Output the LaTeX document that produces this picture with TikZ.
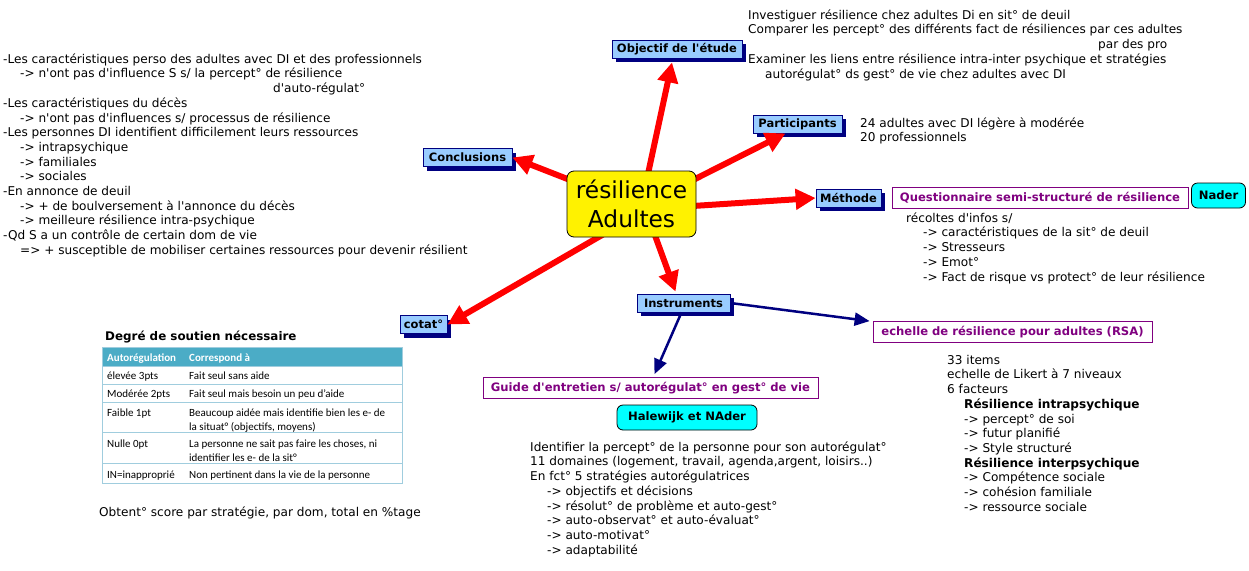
\documentclass[tikz,border=0pt]{standalone}
\usepackage{fontspec}
\newfontfamily\vfont{DejaVu Sans}
\newfontfamily\cfont{Carlito}
\usetikzlibrary{arrows.meta,shadows,calc}
\definecolor{topicblue}{RGB}{153,204,255}
\definecolor{navyb}{RGB}{0,0,128}
\definecolor{purp}{RGB}{128,0,128}
\definecolor{cyanb}{RGB}{0,255,255}
\definecolor{tealh}{RGB}{75,172,198}
\definecolor{tline}{RGB}{160,205,222}
\newcommand\ind{\hspace*{17pt}}
\newcommand\fst{\rule{0pt}{10pt}}
\begin{document}
\begin{tikzpicture}[x=1pt,y=-1pt,
  topic/.style={draw=navyb, fill=topicblue, line width=0.8pt, font=\vfont\fontsize{11.5}{12}\selectfont\bfseries, inner sep=0pt, minimum height=18pt, drop shadow={shadow xshift=4pt, shadow yshift=-4pt, fill=navyb, opacity=1}},
  purpbox/.style={draw=purp, fill=white, line width=0.8pt, text=purp, font=\vfont\fontsize{11.6}{12}\selectfont\bfseries, inner sep=0pt, minimum height=21pt},
  cyanbox/.style={draw=black, fill=cyanb, line width=0.8pt, rounded corners=6pt, font=\vfont\fontsize{11.6}{12}\selectfont\bfseries, inner sep=0pt, minimum height=25pt},
  centerbox/.style={draw=black, fill=yellow, line width=0.8pt, rounded corners=7pt, font=\vfont\fontsize{23.3}{29}\selectfont, align=center, inner sep=0pt, minimum width=129pt, minimum height=66pt},
  txt/.style={align=left, anchor=north west, inner sep=0pt, font=\vfont\fontsize{12.1}{14.7}\selectfont},
  tabtxt/.style={anchor=base west, inner sep=0pt, font=\cfont\fontsize{11}{13}\selectfont},
  tabhead/.style={tabtxt, text=white, font=\cfont\fontsize{11}{13}\selectfont\bfseries},
  redarrow/.style={draw=red, line width=6pt, -{Triangle[length=20pt,width=20pt]}},
  bluearrow/.style={draw=navyb, line width=2.5pt, -{Triangle[length=15pt,width=13pt]}}
]
\useasboundingbox (0,0) rectangle (1249,570);
\fill[white] (0,0) rectangle (1249,570);

% topic boxes
\node[topic, minimum width=130pt] (obj) at (677,49) {Objectif de l'étude};
\node[topic, minimum width=89pt] (part) at (797.5,124) {Participants};
\node[topic, minimum width=65pt] (meth) at (848.5,198) {Méthode};
\node[topic, minimum width=89pt] (concl) at (467.5,157.5) {Conclusions};
\node[topic, minimum width=47pt] (cotat) at (423.5,324.5) {cotat°};
\node[topic, minimum width=93pt] (instr) at (683.5,303) {Instruments};

% red arrows
\draw[redarrow] ($(631.5,204)+(10,0)$) -- ($(obj.south)+(-5,4)$);
\draw[redarrow] ($(631.5,204)+(14,0)$) -- ($(part.south)+(-12,0)$);
\draw[redarrow] ($(631.5,204)+(0,6)$) -- (meth.west);
\draw[redarrow] (631.5,204) -- (concl.east);
\draw[redarrow] ($(631.5,204)+(0,14)$) -- (cotat.east);
\draw[redarrow] ($(631.5,204)+(12,0)$) -- ($(instr.north)+(-8,-2)$);

% center
\node[centerbox] (ctr) at (631.5,204) {résilience\\Adultes};

% other boxes
\node[purpbox, minimum width=296pt] (quest) at (1040,198) {Questionnaire semi-structuré de résilience};
\node[cyanbox, minimum width=54pt] (nader) at (1218.5,195.5) {Nader};
\node[purpbox, minimum width=279pt] (rsa) at (1012.5,332) {echelle de résilience pour adultes (RSA)};
\node[purpbox, minimum width=335pt] (guide) at (650.5,388) {Guide d'entretien s/ autorégulat° en gest° de vie};
\node[cyanbox, minimum width=140pt] (hal) at (687,417.5) {Halewijk et NAder};

% blue arrows
\draw[bluearrow] (instr.east) -- ($(rsa.north west)+(-3,0)$);
\draw[bluearrow] ($(instr.south)+(-2,0)$) -- ($(guide.north)+(4,-3)$);

% text blocks
\node[txt] (tobj) at (748,9) {\fst Investiguer résilience chez adultes Di en sit° de deuil\\
Comparer les percept° des différents fact de résiliences par ces adultes\\
\hspace*{350pt}par des pro\\
Examiner les liens entre résilience intra-inter psychique et stratégies\\
\ind autorégulat° ds gest° de vie chez adultes avec DI};

\node[txt] (tconcl) at (3,53) {\fst -Les caractéristiques perso des adultes avec DI et des professionnels\\
\ind-> n'ont pas d'influence S s/ la percept° de résilience\\
\hspace*{270pt}d'auto-régulat°\\
-Les caractéristiques du décès\\
\ind-> n'ont pas d'influences s/ processus de résilience\\
-Les personnes DI identifient difficilement leurs ressources\\
\ind-> intrapsychique\\
\ind-> familiales\\
\ind-> sociales\\
-En annonce de deuil\\
\ind-> + de boulversement à l'annonce du décès\\
\ind-> meilleure résilience intra-psychique\\
-Qd S a un contrôle de certain dom de vie\\
\ind=> + susceptible de mobiliser certaines ressources pour devenir résilient};

\node[txt] (tpart) at (860,117) {\fst 24 adultes avec DI légère à modérée\\20 professionnels};

\node[txt] (tmeth) at (906,212) {\fst récoltes d'infos s/\\
\ind-> caractéristiques de la sit° de deuil\\
\ind-> Stresseurs\\
\ind-> Emot°\\
\ind-> Fact de risque vs protect° de leur résilience};

\node[txt] (tguide) at (530,441) {\fst Identifier la percept° de la personne pour son autorégulat°\\
11 domaines (logement, travail, agenda,argent, loisirs..)\\
En fct° 5 stratégies autorégulatrices\\
\ind-> objectifs et décisions\\
\ind-> résolut° de problème et auto-gest°\\
\ind-> auto-observat° et auto-évaluat°\\
\ind-> auto-motivat°\\
\ind-> adaptabilité};

\node[txt] (trsa) at (947,354) {\fst 33 items\\
echelle de Likert à 7 niveaux\\
6 facteurs\\
\ind\textbf{Résilience intrapsychique}\\
\ind-> percept° de soi\\
\ind-> futur planifié\\
\ind-> Style structuré\\
\ind\textbf{Résilience interpsychique}\\
\ind-> Compétence sociale\\
\ind-> cohésion familiale\\
\ind-> ressource sociale};

\node[txt] (tscore) at (99,506) {\fst Obtent° score par stratégie, par dom, total en \%tage};

% table
\node[anchor=base west, inner sep=0pt, font=\vfont\fontsize{11.9}{13}\selectfont\bfseries] (ttitle) at (105,340) {Degré de soutien nécessaire};
\fill[tealh] (102,347) rectangle (402,366);
\draw[tline, line width=0.7pt] (102,347) rectangle (402,483);
\foreach \yy in {366,384,402,432,463} {\draw[tline, line width=0.7pt] (102,\yy) -- (402,\yy);}
\node[tabhead] (h1) at (107,361) {Autorégulation};
\node[tabhead] (h2) at (189,361) {Correspond à};
\node[tabtxt] (a1) at (107,379) {élevée 3pts};
\node[tabtxt] (b1) at (189,379) {Fait seul sans aide};
\node[tabtxt] (a2) at (107,397) {Modérée 2pts};
\node[tabtxt] (b2) at (189,397) {Fait seul mais besoin un peu d’aide};
\node[tabtxt] (a3) at (107,416) {Faible 1pt};
\node[tabtxt] (b3) at (189,416) {Beaucoup aidée mais identifie bien les e- de};
\node[tabtxt] (c3) at (189,430) {la situat° (objectifs, moyens)};
\node[tabtxt] (a4) at (107,447) {Nulle 0pt};
\node[tabtxt] (b4) at (189,447) {La personne ne sait pas faire les choses, ni};
\node[tabtxt] (c4) at (189,461) {identifier les e- de la sit°};
\node[tabtxt] (a5) at (107,478) {IN=inapproprié};
\node[tabtxt] (b5) at (189,478) {Non pertinent dans la vie de la personne};
\end{tikzpicture}
\end{document}
